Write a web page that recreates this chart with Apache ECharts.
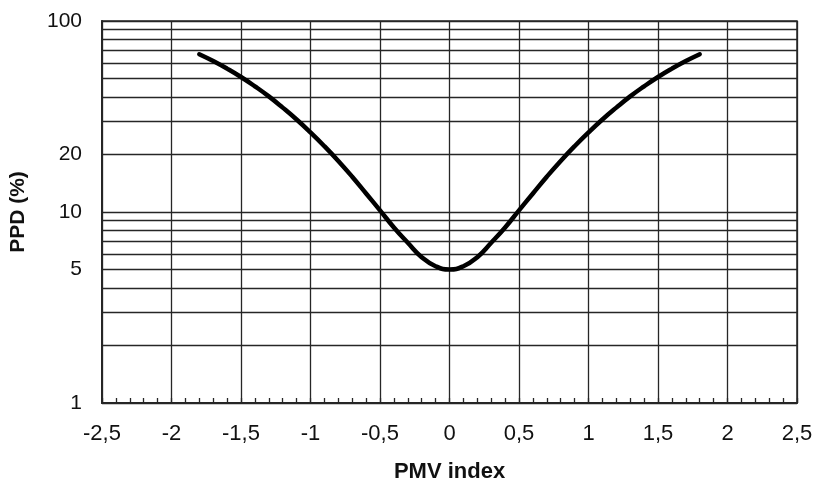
<!DOCTYPE html>
<html>
<head>
<meta charset="utf-8">
<script src="https://cdn.jsdelivr.net/npm/echarts@6/dist/echarts.min.js"></script>
<style>
  html, body { margin: 0; padding: 0; background: #fff; }
  #chart { width: 816px; height: 482px; }
</style>
</head>
<body>
<div id="chart"></div>
<script>
// PMV index (x) against predicted percentage dissatisfied (y, %)
const pmv = [-1.8, -1.7, -1.6, -1.5, -1.4, -1.3, -1.2, -1.1, -1.0, -0.9, -0.8, -0.7, -0.6, -0.5, -0.4, -0.3, -0.2, -0.1,
             0, 0.1, 0.2, 0.3, 0.4, 0.5, 0.6, 0.7, 0.8, 0.9, 1.0, 1.1, 1.2, 1.3, 1.4, 1.5, 1.6, 1.7, 1.8];
const ppd = [67, 61.7, 56.3, 50.9, 45.5, 40.3, 35.2, 30.5, 26.1, 22.1, 18.5, 15.3, 12.5, 10.2, 8.3, 6.9, 5.8, 5.2,
             5.0, 5.2, 5.8, 6.9, 8.3, 10.2, 12.5, 15.3, 18.5, 22.1, 26.1, 30.5, 35.2, 40.3, 45.5, 50.9, 56.3, 61.7, 67];

// log-paper horizontal rules and the PPD values that carry a label
const ppdGrid = [1, 2, 3, 4, 5, 6, 7, 8, 9, 10, 20, 30, 40, 50, 60, 70, 80, 90, 100];
const ppdLabels = [1, 5, 10, 20, 100];

const FONT = '"Liberation Sans", Arial, sans-serif';
const INK = '#111';
const RULE = '#262626';

const curve = pmv.map((x, i) => [x, ppd[i]]);

const ruleLines = ppdGrid.map(v => {
  const item = { yAxis: v };
  if (ppdLabels.indexOf(v) >= 0) {
    item.label = {
      show: true,
      position: 'start',
      formatter: String(v),
      distance: 20,
      fontFamily: FONT,
      fontSize: 21,
      color: INK
    };
  }
  return item;
});

const chart = echarts.init(document.getElementById('chart'), null, { renderer: 'canvas' });
chart.setOption({
  animation: false,
  backgroundColor: '#fff',
  grid: {
    left: 102, right: 19, top: 21, bottom: 79,
    outerBoundsMode: 'none',
    containLabel: false,
    show: true,
    borderColor: RULE,
    borderWidth: 1.5,
    backgroundColor: 'transparent'
  },
  xAxis: {
    type: 'value',
    min: -2.5,
    max: 2.5,
    interval: 0.5,
    name: 'PMV index',
    nameLocation: 'middle',
    nameGap: 58,
    nameTextStyle: { fontFamily: FONT, fontSize: 22, fontWeight: 'bold', color: INK },
    axisLine: { show: true, onZero: false, lineStyle: { color: RULE, width: 2 } },
    axisTick: { show: true, inside: true, length: 5, lineStyle: { color: RULE, width: 1.3 } },
    minorTick: { show: true, splitNumber: 5, length: 5, lineStyle: { color: RULE, width: 1.3 } },
    axisLabel: {
      margin: 20,
      fontFamily: FONT,
      fontSize: 22,
      color: INK,
      formatter: v => String(Math.round(v * 10) / 10).replace('.', ',')
    },
    splitLine: { show: true, lineStyle: { color: RULE, width: 1.3 } }
  },
  yAxis: {
    type: 'log',
    logBase: 10,
    min: 1,
    max: 100,
    name: 'PPD (%)',
    nameLocation: 'middle',
    nameGap: 73,
    nameTextStyle: { fontFamily: FONT, fontSize: 21, fontWeight: 'bold', color: INK },
    axisLine: { show: true, onZero: false, lineStyle: { color: RULE, width: 2 } },
    axisTick: { show: false },
    axisLabel: { show: false },
    splitLine: { show: false }
  },
  series: [
    {
      // carries the horizontal log rules and their labels
      type: 'line',
      data: curve,
      symbol: 'none',
      lineStyle: { opacity: 0 },
      silent: true,
      z: 1,
      markLine: {
        silent: true,
        symbol: ['none', 'none'],
        precision: 0,
        label: { show: false },
        lineStyle: { type: 'solid', color: RULE, width: 1.3 },
        emphasis: { disabled: true },
        data: ruleLines
      }
    },
    {
      type: 'line',
      data: curve,
      smooth: true,
      symbol: 'none',
      z: 5,
      lineStyle: { color: '#000', width: 4.5, cap: 'round' }
    }
  ]
});
</script>
</body>
</html>
